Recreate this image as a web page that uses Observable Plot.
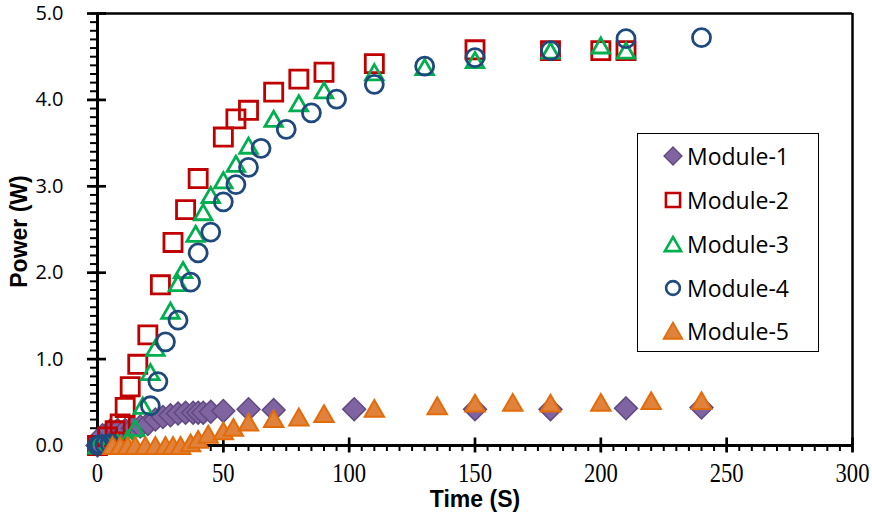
<!DOCTYPE html>
<html><head><meta charset="utf-8">
<script src="https://cdn.jsdelivr.net/npm/d3@7"></script>
<script src="https://cdn.jsdelivr.net/npm/@observablehq/plot@0.6"></script>
<style>
body{margin:0;background:#fff;}
#wrap{position:relative;width:872px;height:517px;overflow:hidden;}
#legend{position:absolute;left:637px;top:133px;width:182px;height:219px;border:1.5px solid #000;box-sizing:border-box;background:#fff;font-family:"Open Sans",sans-serif;font-size:23px;color:#000;}
.row{position:absolute;left:0;height:30px;display:flex;align-items:center;}
.row svg{display:block;}
.row span{position:absolute;left:49px;white-space:nowrap;line-height:30px;}
</style></head><body><div id="wrap"></div>
<script>
// ---- data (time in s, power in W) ----
const t1 = [0, 2, 5, 8, 11, 14, 17, 20, 23, 26, 29, 32, 35, 38, 40, 42, 45, 50, 60, 70, 102, 150, 180, 210, 240];
const p1 = [0, 0.12, 0.17, 0.18, 0.18, 0.2, 0.22, 0.25, 0.3, 0.33, 0.35, 0.37, 0.38, 0.38, 0.38, 0.38, 0.39, 0.4, 0.42, 0.41, 0.42, 0.42, 0.42, 0.43, 0.44];
const t2 = [0, 4, 7, 9, 11, 13, 16, 20, 25, 30, 35, 40, 50, 55, 60, 70, 80, 90, 110, 150, 180, 200, 210];
const p2 = [0, 0.1, 0.17, 0.25, 0.44, 0.68, 0.94, 1.28, 1.86, 2.35, 2.73, 3.09, 3.57, 3.78, 3.88, 4.09, 4.24, 4.32, 4.42, 4.58, 4.57, 4.57, 4.57];
const t3 = [0, 4, 8, 12, 15, 18, 21, 23, 29, 32, 34, 39, 42, 45, 50, 55, 60, 70, 80, 90, 110, 130, 150, 180, 200, 210];
const p3 = [0, 0.01, 0.03, 0.08, 0.2, 0.46, 0.85, 1.13, 1.56, 1.88, 2.03, 2.45, 2.7, 2.9, 3.07, 3.26, 3.47, 3.78, 3.96, 4.11, 4.32, 4.38, 4.46, 4.57, 4.63, 4.57];
const t4 = [0, 1, 3, 5, 21, 24, 27, 32, 37, 40, 45, 50, 55, 60, 65, 75, 85, 95, 110, 130, 150, 180, 210, 240];
const p4 = [0, 0.01, 0.01, 0.02, 0.46, 0.74, 1.2, 1.45, 1.89, 2.23, 2.47, 2.82, 3.02, 3.22, 3.44, 3.66, 3.85, 4.01, 4.18, 4.39, 4.49, 4.57, 4.71, 4.72];
const t5 = [6, 9, 12, 15, 19, 23, 27, 30, 33, 37, 40, 44, 50, 54, 60, 70, 80, 90, 110, 135, 150, 165, 180, 200, 220, 240];
const p5 = [0, 0, 0, 0, 0, 0, 0, 0, 0, 0.03, 0.07, 0.13, 0.17, 0.21, 0.27, 0.31, 0.33, 0.37, 0.43, 0.46, 0.49, 0.5, 0.49, 0.5, 0.52, 0.52];
const names = ["Module-1", "Module-2", "Module-3", "Module-4", "Module-5"];
const xMajor = [0, 50, 100, 150, 200, 250, 300];
const yMajor = [0, 1, 2, 3, 4, 5];
const xMinor = d3.range(0, 301, 5);
const yMinor = d3.range(0, 5.001, 0.1);

const styles = [
  {symbol: "diamond2", fill: "#8064A2", stroke: "#5F4A7E", r: 10.3, sw: 1.5, dy: 0, lsize: 206, lsw: 1.3},
  {symbol: "square", fill: "none", stroke: "#C00000", r: 10.2, sw: 2.8, dy: 0, lsize: 200, lsw: 2.6},
  {symbol: "triangle", fill: "none", stroke: "#00B050", r: 6.5, sw: 2.8, dy: 2.5, lsize: 115, lsw: 2.6},
  {symbol: "circle", fill: "none", stroke: "#1F497D", r: 9, sw: 2.8, dy: 0, lsize: 150, lsw: 2.6},
  {symbol: "triangle", fill: "#E0823C", stroke: "#E36C0A", r: 7.2, sw: 2, dy: 2.8, lsize: 150, lsw: 1.8}
];
const ts = [t1, t2, t3, t4, t5], ps = [p1, p2, p3, p4, p5];
const seriesData = ts.map((t, k) => t.map((v, i) => ({t: v, p: ps[k][i], s: names[k]})));

const empty = () => "";
const dotMarks = seriesData.map((d, k) => Plot.dot(d, {
  x: "t", y: "p", symbol: () => styles[k].symbol, r: styles[k].r,
  fill: styles[k].fill, stroke: styles[k].stroke, strokeWidth: styles[k].sw, dy: styles[k].dy
}));

const plot = Plot.plot({
  width: 872, height: 517,
  marginLeft: 97, marginRight: 20, marginTop: 13, marginBottom: 72,
  x: {domain: [0, 300]},
  y: {domain: [0, 5]},
  symbol: {type: "identity"},
  style: {background: "white", overflow: "visible", color: "#000"},
  marks: [
    Plot.ruleY([5], {stroke: "#000", strokeWidth: 2.5}),
    Plot.ruleX([300], {stroke: "#000", strokeWidth: 2.5}),
    Plot.axisX(xMinor, {tickSize: 6, strokeWidth: 2, tickFormat: empty, label: null}),
    Plot.axisX(xMajor, {tickSize: 15, dy: -7.5, strokeWidth: 2.7, tickFormat: empty, label: null}),
    Plot.axisX(xMajor, {tickSize: 0, tickPadding: 17, fontSize: 28, fontFamily: "Liberation Serif", tickFormat: d3.format("d"), label: null}),
    Plot.axisY(yMinor, {tickSize: 7, strokeWidth: 2, tickFormat: empty, label: null}),
    Plot.axisY(yMajor, {tickSize: 19, dx: 9, strokeWidth: 2.7, tickFormat: empty, label: null}),
    Plot.axisY(yMajor, {tickSize: 0, tickPadding: 34, fontSize: 20, fontFamily: "Open Sans", tickFormat: d3.format(".1f"), label: null}),
    Plot.ruleX([0], {stroke: "#000", strokeWidth: 3}),
    Plot.ruleY([0], {stroke: "#000", strokeWidth: 3}),
    ...dotMarks,
    Plot.text(["Time (S)"], {text: d => d, frameAnchor: "bottom", textAnchor: "middle", lineAnchor: "middle", dy: 54, fontSize: 23, fontWeight: "bold", fontFamily: "Liberation Sans", fill: "#000"}),
    Plot.text(["Power (W)"], {text: d => d, frameAnchor: "left", textAnchor: "middle", lineAnchor: "middle", dx: -78, dy: 2, rotate: -90, fontSize: 23, fontWeight: "bold", fontFamily: "Liberation Sans", fill: "#000"})
  ]
});

// condense the serif x tick labels
plot.querySelectorAll('g[aria-label="x-axis tick label"] text').forEach(el => {
  const n = el.textContent.length;
  el.setAttribute("textLength", 11.3 * n);
  el.setAttribute("lengthAdjust", "spacingAndGlyphs");
});

const wrap = document.getElementById("wrap");
wrap.appendChild(plot);

// legend
const legend = document.createElement("div");
legend.id = "legend";
const rowTops = [22, 66, 110, 154, 197];
const symMap = {diamond2: d3.symbolDiamond2, square: d3.symbolSquare, triangle: d3.symbolTriangle, circle: d3.symbolCircle};
names.forEach((name, k) => {
  const st = styles[k];
  const row = document.createElement("div");
  row.className = "row";
  row.style.top = (rowTops[k] - 15) + "px";
  const svg = d3.create("svg").attr("width", 72).attr("height", 30);
  const shift = st.symbol === "triangle" ? 2.4 : 0;
  svg.append("path")
    .attr("transform", `translate(35,${15 + shift})`)
    .attr("d", d3.symbol(symMap[st.symbol], st.lsize)())
    .attr("fill", st.fill).attr("stroke", st.stroke).attr("stroke-width", st.lsw);
  row.appendChild(svg.node());
  const span = document.createElement("span");
  span.textContent = name;
  row.appendChild(span);
  legend.appendChild(row);
});
wrap.appendChild(legend);
</script>
</body></html>
